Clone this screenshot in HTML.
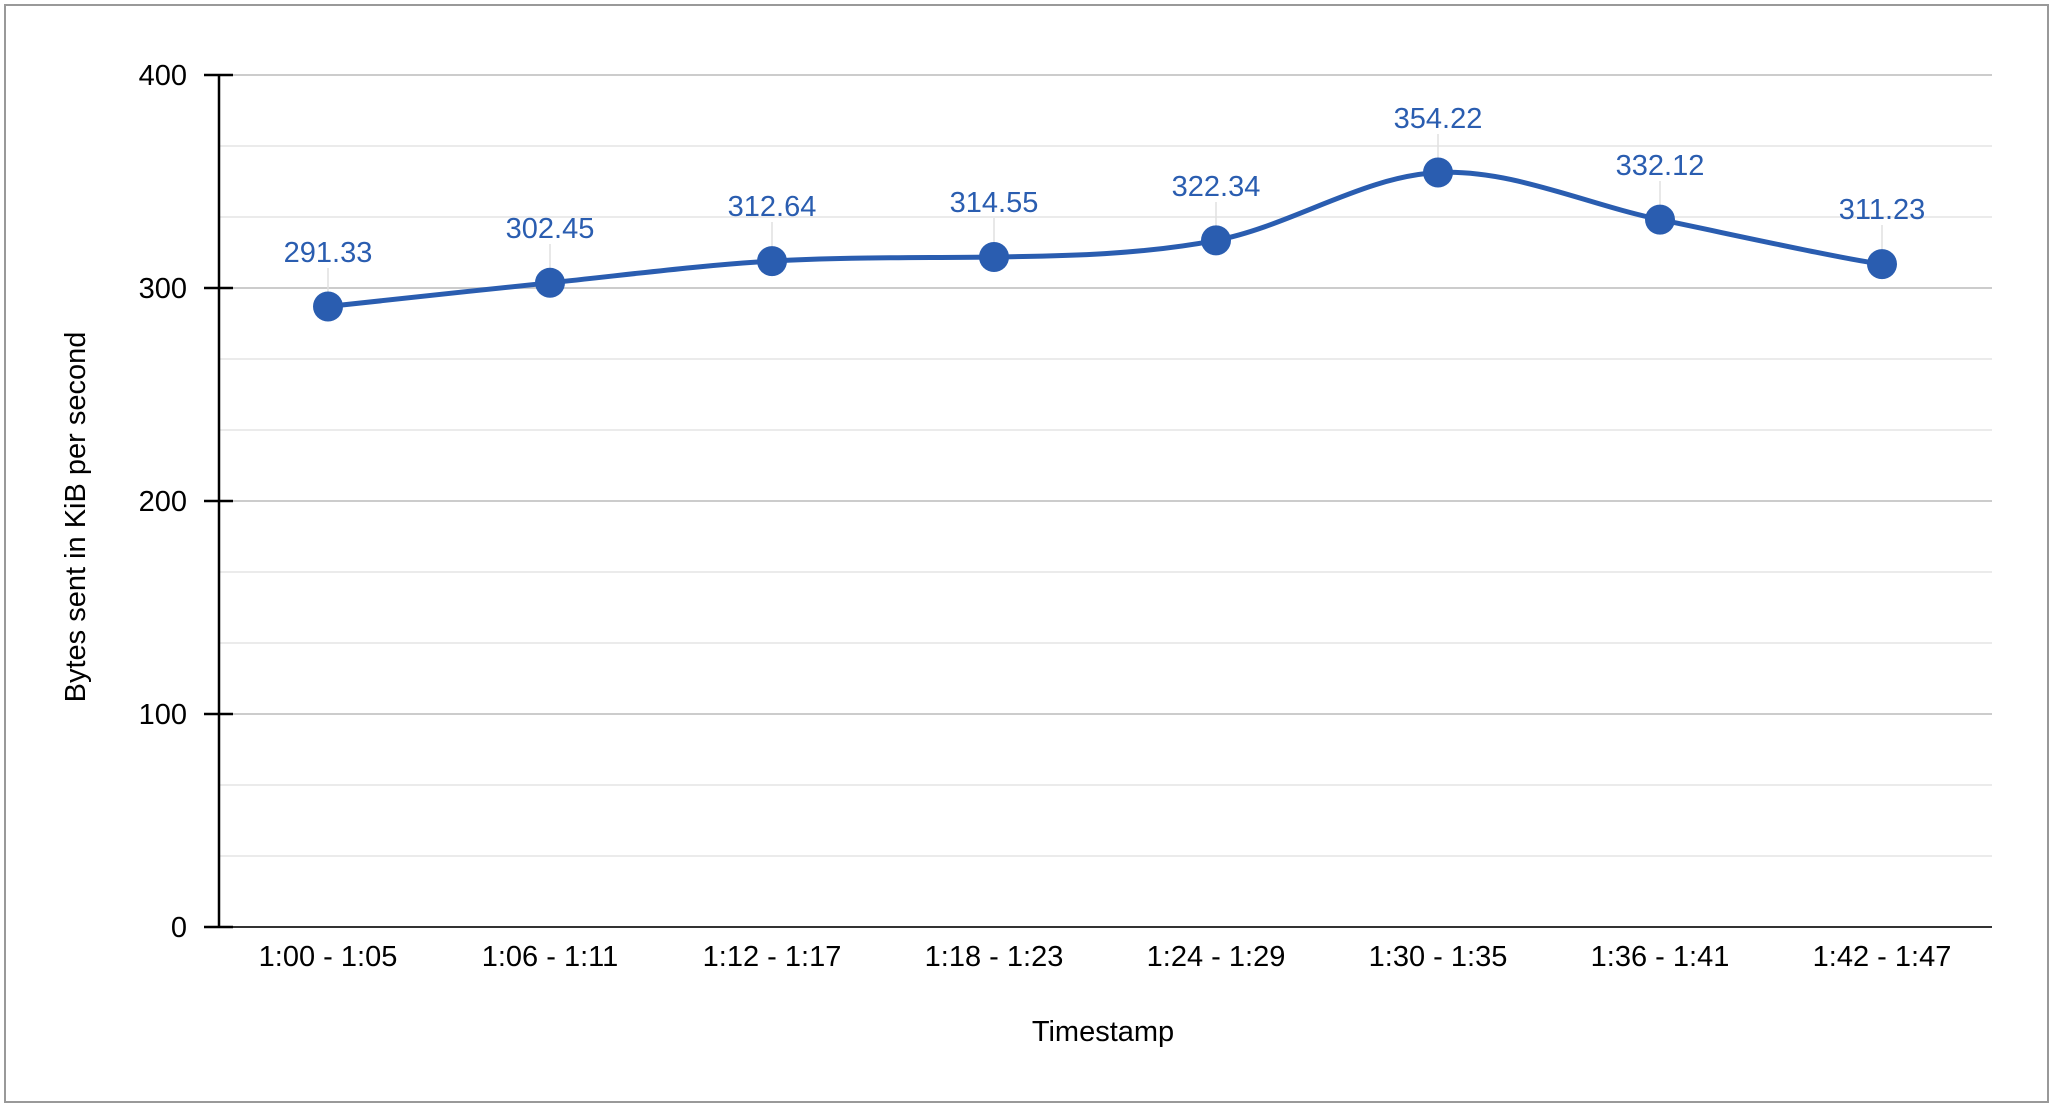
<!DOCTYPE html>
<html><head><meta charset="utf-8"><style>
html,body{margin:0;padding:0;background:#fff}
svg{display:block}
text{font-family:"Liberation Sans",Arial,sans-serif}
</style></head><body>
<svg width="2054" height="1112" viewBox="0 0 2054 1112">
<rect x="5" y="5" width="2043" height="1097" fill="#fff" stroke="#999" stroke-width="2"/>
<g stroke="#ebebeb" stroke-width="2">
<line x1="219" y1="146" x2="1992" y2="146"/>
<line x1="219" y1="217" x2="1992" y2="217"/>
<line x1="219" y1="359" x2="1992" y2="359"/>
<line x1="219" y1="430" x2="1992" y2="430"/>
<line x1="219" y1="572" x2="1992" y2="572"/>
<line x1="219" y1="643" x2="1992" y2="643"/>
<line x1="219" y1="785" x2="1992" y2="785"/>
<line x1="219" y1="856" x2="1992" y2="856"/>
</g>
<g stroke="#cccccc" stroke-width="2">
<line x1="219" y1="75" x2="1992" y2="75"/>
<line x1="219" y1="288" x2="1992" y2="288"/>
<line x1="219" y1="501" x2="1992" y2="501"/>
<line x1="219" y1="714" x2="1992" y2="714"/>
</g>
<line x1="219" y1="927" x2="1992" y2="927" stroke="#333" stroke-width="2"/>
<line x1="219" y1="74" x2="219" y2="928" stroke="#000" stroke-width="2.5"/>
<g stroke="#000" stroke-width="2.5">
<line x1="204" y1="75" x2="233" y2="75"/>
<line x1="204" y1="288" x2="233" y2="288"/>
<line x1="204" y1="501" x2="233" y2="501"/>
<line x1="204" y1="714" x2="233" y2="714"/>
<line x1="204" y1="927" x2="233" y2="927"/>
</g>
<g font-size="29" fill="#000" text-anchor="end">
<text x="187" y="85">400</text>
<text x="187" y="298">300</text>
<text x="187" y="511">200</text>
<text x="187" y="724">100</text>
<text x="187" y="937">0</text>
</g>
<g font-size="29" fill="#000" text-anchor="middle">
<text x="328" y="966">1:00 - 1:05</text>
<text x="550" y="966">1:06 - 1:11</text>
<text x="772" y="966">1:12 - 1:17</text>
<text x="994" y="966">1:18 - 1:23</text>
<text x="1216" y="966">1:24 - 1:29</text>
<text x="1438" y="966">1:30 - 1:35</text>
<text x="1660" y="966">1:36 - 1:41</text>
<text x="1882" y="966">1:42 - 1:47</text>
<text x="1103" y="1041">Timestamp</text>
<text transform="translate(85,517) rotate(-90)">Bytes sent in KiB per second</text>
</g>
<g stroke="#e0e0e0" stroke-width="1.5">
<line x1="328" y1="268" x2="328" y2="300"/>
<line x1="550" y1="244" x2="550" y2="276"/>
<line x1="772" y1="222" x2="772" y2="254"/>
<line x1="994" y1="218" x2="994" y2="250"/>
<line x1="1216" y1="202" x2="1216" y2="234"/>
<line x1="1438" y1="134" x2="1438" y2="166"/>
<line x1="1660" y1="181" x2="1660" y2="213"/>
<line x1="1882" y1="225" x2="1882" y2="257"/>
</g>
<path d="M328,306.5 C365,302.5 476,290.4 550,282.8 C624,275.2 698,265.4 772,261.1 C846,256.8 920,258 994,257 C1068,256 1142,254.5 1216,240.4 C1290,226.3 1364,176 1438,172.5 C1512,169 1586,204.3 1660,219.6 C1734,234.9 1845,259.5 1882,264.1" fill="none" stroke="#2a5db0" stroke-width="5"/>
<g fill="#2a5db0">
<circle cx="328" cy="306.5" r="15"/>
<circle cx="550" cy="282.8" r="15"/>
<circle cx="772" cy="261.1" r="15"/>
<circle cx="994" cy="257" r="15"/>
<circle cx="1216" cy="240.4" r="15"/>
<circle cx="1438" cy="172.5" r="15"/>
<circle cx="1660" cy="219.6" r="15"/>
<circle cx="1882" cy="264.1" r="15"/>
</g>
<g font-size="29" fill="#2a5db0" text-anchor="middle">
<text x="328" y="262">291.33</text>
<text x="550" y="238">302.45</text>
<text x="772" y="216">312.64</text>
<text x="994" y="212">314.55</text>
<text x="1216" y="196">322.34</text>
<text x="1438" y="128">354.22</text>
<text x="1660" y="175">332.12</text>
<text x="1882" y="219">311.23</text>
</g>
</svg>
</body></html>
